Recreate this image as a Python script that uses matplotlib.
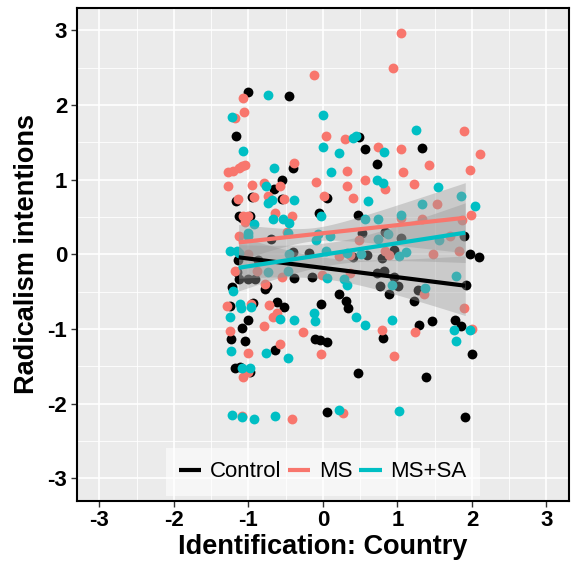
import numpy as np
import matplotlib
matplotlib.use("Agg")
import matplotlib.pyplot as plt

plt.rcParams['font.family'] = ['Liberation Sans', 'DejaVu Sans']
plt.rcParams['axes.unicode_minus'] = False

# jittered points (x = identification, y = radicalism)
control_x = [-1.00, -0.45, -1.17, 0.48, 0.56, 1.33, -0.40, 0.73, -0.55, -0.65,
             -1.17, -0.95, -0.55, 0.05, -1.12, -0.98, -1.09, -0.05, 0.47, -0.69,
             0.53, 0.84, 1.05, 1.90, -0.40, -1.14, -0.87, -0.18, 0.40, 0.59,
             0.79, 0.95, 1.97, 2.10, -1.15, -1.12, -1.00, -0.91, -0.75, -0.39,
             -0.14, 0.73, 0.82, 0.95, 0.77, 1.01, 0.89, 1.27, 1.22, 1.92,
             -1.22, -0.78, -1.25, -0.94, -0.61, -0.52, 0.22, 0.31, 0.34, -0.03,
             -1.00, -1.09, -1.23, -1.04, -0.11, -0.04, 0.05, -0.64, -1.18, -1.11,
             -0.98, 0.47, 0.05, 0.81, 1.29, 1.46, 1.77, 1.85, 2.00, 1.38, 1.91]
control_y = [2.17, 2.12, 1.58, 1.57, 1.41, 1.42, 1.15, 1.21, 1.00, 0.88,
             0.71, 0.77, 0.74, 0.76, 0.52, 0.51, 0.49, 0.55, 0.53, 0.21,
             0.29, 0.30, 0.22, 0.24, 0.03, -0.07, -0.07, 0.02, -0.03, -0.01,
             -0.05, 0.06, 0.01, -0.04, -0.24, -0.33, -0.33, -0.33, -0.43, -0.32,
             -0.31, -0.25, -0.22, -0.30, -0.43, -0.43, -0.53, -0.48, -0.62, -0.41,
             -0.44, -0.46, -0.69, -0.65, -0.64, -0.70, -0.53, -0.62, -0.72, -0.66,
             -0.88, -0.98, -1.13, -1.16, -1.14, -1.15, -1.18, -1.28, -1.52, -1.51,
             -1.57, -1.59, -2.11, -1.12, -0.95, -0.89, -0.88, -0.96, -1.34, -1.64, -2.18]

ms_x = [-0.12, 1.05, 0.94, -1.07, -1.06, -1.18, 0.04, 0.30, 0.74, 1.05,
        1.89, 2.11, -0.39, -1.27, -1.20, -1.13, -1.09, -1.04, -0.79, -0.57,
        -1.27, -0.95, -1.14, -0.92, -0.73, -0.52, -0.09, 0.33, 0.33, 0.02,
        0.40, 1.08, 1.43, 1.97, 0.56, 0.83, 1.22, 1.53, 1.99, 1.33,
        1.86, 1.05, -1.07, -1.00, -1.05, -0.64, -0.41, -1.13, -0.48, 0.48,
        1.71, -1.00, -1.18, -0.89, -0.78, -0.55, 0.22, 0.36, 0.84, 0.89,
        1.48, 1.82, -0.01, 0.36, 1.36, -1.28, -0.97, -0.72, -0.62, -0.67,
        -0.79, -1.25, -0.26, -0.58, -1.01, -0.02, -1.07, -1.00, -1.09, -0.41,
        0.27, 0.79, 1.24, 0.95, 1.89, 2.00]
ms_y = [2.40, 2.97, 2.50, 2.10, 1.90, 1.82, 1.58, 1.55, 1.44, 1.41,
        1.65, 1.35, 1.22, 1.10, 1.11, 1.16, 1.18, 1.19, 0.96, 0.92,
        0.91, 0.93, 0.74, 0.77, 0.78, 0.74, 0.97, 0.91, 1.12, 0.78,
        0.76, 1.10, 1.20, 1.13, 1.00, 0.88, 0.94, 0.68, 0.53, 0.48,
        0.46, 0.49, 0.52, 0.52, 0.43, 0.56, 0.51, 0.24, 0.30, 0.19,
        0.25, 0.01, -0.22, -0.22, -0.40, -0.30, -0.02, -0.01, 0.04, -0.01,
        0.01, 0.04, -0.27, -0.25, -0.53, -0.69, -0.66, -0.68, -0.78, -0.84,
        -0.96, -1.03, -1.04, -1.20, -1.32, -1.33, -1.64, -1.57, -2.16, -2.20,
        -2.12, -1.01, -1.04, -1.36, -0.72, -1.00]

mssa_x = [-0.73, -1.22, 0.00, 0.40, 0.45, 0.00, 0.22, -1.07, 1.25, 0.82,
          -0.66, -0.76, -0.68, -0.73, -0.39, 0.11, 0.73, 0.80, 1.55, 0.61,
          1.85, 2.04, 1.33, 0.57, 0.74, 1.05, -0.92, -0.67, -0.54, -0.45,
          -0.02, -1.00, -1.01, -0.47, -0.07, -0.09, 0.10, 0.74, 0.88, 1.56,
          -1.25, -1.15, -1.12, -0.46, 0.04, 0.33, 0.51, 1.02, 1.11, -0.73,
          -0.47, 0.05, 0.29, 0.33, 1.79, -1.20, 0.93, 1.37, -1.11, -1.10,
          -0.97, -1.24, -0.58, -0.39, -0.12, -0.10, 0.45, 0.56, 0.93, 1.76,
          1.98, 1.79, -1.23, -0.76, -0.47, -1.08, -0.98, -1.22, -1.09, -0.93,
          -0.64, 0.21, 1.02]
mssa_y = [2.13, 1.84, 1.86, 1.56, 1.58, 1.44, 1.36, 1.38, 1.66, 1.37,
          1.15, 0.91, 0.73, 0.69, 0.73, 1.10, 0.99, 0.96, 0.90, 0.72,
          0.78, 0.65, 0.67, 0.48, 0.48, 0.53, 0.41, 0.48, 0.48, 0.42,
          0.51, 0.29, 0.24, 0.28, 0.27, 0.19, 0.24, 0.20, 0.27, 0.19,
          0.04, 0.04, 0.02, 0.00, 0.04, 0.02, 0.01, -0.02, 0.03, -0.24,
          -0.22, -0.32, -0.33, -0.41, -0.29, -0.49, -0.41, -0.45, -0.67, -0.72,
          -0.71, -0.84, -0.87, -0.88, -0.79, -0.89, -0.84, -0.95, -0.88, -1.01,
          -1.01, -1.16, -1.29, -1.32, -1.39, -1.52, -1.52, -2.15, -2.18, -2.20,
          -2.16, -2.09, -2.10]

groups = ["Control", "MS", "MS+SA"]
colors = ["black", "#F8766D", "#00BFC4"]

# fitted lines (on unjittered x), read at the two ends of the fit range
fit_range = [-1.13, 1.91]
fit_start = [-0.04, 0.16, -0.18]
fit_end = [-0.42, 0.49, 0.29]
# 95% band half-width at left end, middle (x=0.4) and right end
band_x = [-1.13, 0.4, 1.91]
band_hw = [[0.28, 0.16, 0.40],
           [0.24, 0.15, 0.47],
           [0.31, 0.16, 0.40]]

ticks = [-3, -2, -1, 0, 1, 2, 3]
minor_ticks = [-2.5, -1.5, -0.5, 0.5, 1.5, 2.5]
data = [(control_x, control_y), (ms_x, ms_y), (mssa_x, mssa_y)]

fig = plt.figure(figsize=(5.74, 5.69), dpi=100)
ax = fig.add_axes([0.134, 0.12, 0.857, 0.866])
ax.set_facecolor("#EBEBEB")

for (xs, ys), c in zip(data, colors):
    ax.scatter(xs, ys, s=50, color=c, linewidths=0, zorder=3)

xx = np.linspace(fit_range[0], fit_range[1], 80)
for i, g in enumerate(groups):
    yy = np.interp(xx, fit_range, [fit_start[i], fit_end[i]])
    # se-like shape: hw^2 is quadratic in x
    q = np.polyfit(band_x, np.square(band_hw[i]), 2)
    hw = np.sqrt(np.polyval(q, xx))
    ax.fill_between(xx, yy - hw, yy + hw, color="#999999", alpha=0.4,
                    linewidth=0, zorder=4)
    ax.plot(xx, yy, color=colors[i], lw=3, zorder=5, label=g, solid_capstyle="butt")

ax.set_xticks(ticks)
ax.set_yticks(ticks)
ax.set_xticks(minor_ticks, minor=True)
ax.set_yticks(minor_ticks, minor=True)
ax.set_xlim(-3.3, 3.3)
ax.set_ylim(-3.3, 3.3)
ax.grid(which="major", color="white", lw=1.2, zorder=0)
ax.grid(which="minor", color="white", lw=0.6, zorder=0)
ax.set_axisbelow(True)
ax.tick_params(which="minor", length=0)
ax.tick_params(which="major", length=4, width=1, color="#333333",
               labelsize=16, pad=3)
for lab in ax.get_xticklabels() + ax.get_yticklabels():
    lab.set_fontweight("bold")
for sp in ax.spines.values():
    sp.set_color("black")
    sp.set_linewidth(1.5)

ax.set_xlabel("Identification: Country", fontsize=19.5, fontweight="bold", labelpad=2)
ax.set_ylabel("Radicalism intentions", fontsize=19.5, fontweight="bold", labelpad=5)

leg = ax.legend(loc="lower center", bbox_to_anchor=(0.5, 0.01), ncol=3,
                fontsize=16, frameon=True, fancybox=False, handlelength=1.0,
                handletextpad=0.4, columnspacing=0.3, borderpad=0.6,
                borderaxespad=0)
leg.get_frame().set_facecolor("white")
leg.get_frame().set_alpha(0.6)
leg.get_frame().set_linewidth(0)
leg.set_zorder(6)

fig.savefig("out.png", dpi=100)
